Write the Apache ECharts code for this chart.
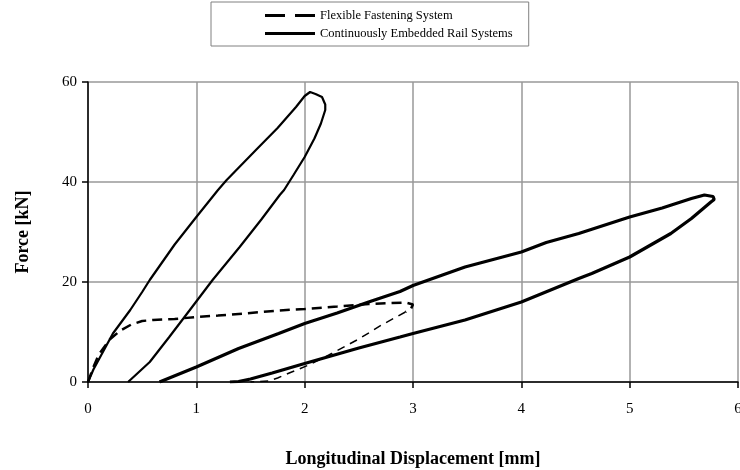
<!DOCTYPE html>
<html>
<head>
<meta charset="utf-8">
<script src="https://cdn.jsdelivr.net/npm/echarts@6/dist/echarts.min.js"></script>
<style>html,body{margin:0;padding:0;background:#fff}#c{width:740px;height:470px}</style>
</head>
<body>
<div id="c"></div>
<script>
// Flexible Fastening System – loading branch [displacement mm, force kN]
var flexLoad = [[0,0],[0.05,3],[0.1,5.5],[0.2,8.5],[0.3,10.3],[0.4,11.5],[0.5,12.2],[0.6,12.4],[0.8,12.6],[1.0,13.0],[1.2,13.3],[1.44,13.7],[1.76,14.3],[2.0,14.6],[2.3,15.1],[2.59,15.6],[2.8,15.8],[2.93,15.9],[3.0,15.5],[2.98,14.6],[2.93,14.0]];
// Flexible Fastening System – unloading branch
var flexUnload = [[2.93,14.0],[2.71,11.4],[2.5,8.6],[2.25,5.7],[2.05,3.5],[1.88,2.0],[1.75,0.8],[1.67,0.2],[1.5,0]];
// Continuously embedded – steep loop
var steepLoop = [[0,0],[0.05,2.5],[0.1,4.5],[0.23,9.7],[0.39,14.4],[0.5,18],[0.57,20.4],[0.8,27.5],[1.0,33],[1.2,38.4],[1.28,40.4],[1.55,46.4],[1.75,50.8],[1.92,55],[2.0,57.2],[2.05,58],[2.1,57.6],[2.16,57.0],[2.19,55.5],[2.19,54.4],[2.15,51.7],[2.09,48.7],[2.0,45],[1.9,41.5],[1.81,38.4],[1.77,37.4],[1.6,32.5],[1.4,27],[1.15,20.4],[0.94,14.4],[0.75,9],[0.57,4],[0.47,2],[0.37,0]];
// Continuously embedded – broad loop
var broadLoop = [[0.66,0],[1.0,3],[1.39,6.7],[1.76,9.7],[2.0,11.7],[2.3,13.8],[2.59,16],[2.88,18.1],[3.0,19.3],[3.48,23],[4.0,26],[4.23,27.9],[4.53,29.7],[5.0,33],[5.3,34.8],[5.57,36.7],[5.69,37.4],[5.77,37.1],[5.78,36.5],[5.75,36],[5.57,32.7],[5.38,29.7],[5.0,25],[4.65,21.7],[4.53,20.7],[4.0,16],[3.48,12.4],[3.0,9.7],[2.88,9.0],[2.5,6.8],[2.0,3.7],[1.7,1.8],[1.5,0.6],[1.39,0.1],[1.31,0]];
var legendNames = ['Flexible Fastening System','Continuously Embedded Rail Systems'];
var xTitle = 'Longitudinal Displacement [mm]';
var yTitle = 'Force [kN]';

var font = 'Liberation Serif';
var chart = echarts.init(document.getElementById('c'));
chart.setOption({
  animation: false,
  legend: {
    data: [
      {name: legendNames[0], icon: 'path://M0,0H20V3H0Z M30,0H50V3H30Z'},
      {name: legendNames[1], icon: 'path://M0,0H50V3H0Z'}
    ],
    orient: 'vertical',
    left: 211, top: 2,
    padding: [7, 16, 6, 54],
    itemWidth: 50, itemHeight: 3, itemGap: 5,
    borderColor: '#808080', borderWidth: 1,
    itemStyle: {color: '#000', borderWidth: 0},
    textStyle: {fontFamily: font, fontSize: 12.5, color: '#000'}
  },
  grid: {left: 88, right: 2, top: 82, bottom: 88, outerBoundsMode: 'none', containLabel: false},
  xAxis: {
    type: 'value', min: 0, max: 6, interval: 1,
    name: xTitle, nameLocation: 'middle', nameGap: 68,
    nameTextStyle: {fontFamily: font, fontSize: 18, fontWeight: 'bold', color: '#000'},
    axisLine: {lineStyle: {color: '#000', width: 1.5}},
    axisTick: {show: true, length: 6, lineStyle: {color: '#000', width: 1.5}},
    axisLabel: {fontFamily: font, fontSize: 15, color: '#000', margin: 20},
    splitLine: {show: true, lineStyle: {color: '#999', width: 1.5}}
  },
  yAxis: {
    type: 'value', min: 0, max: 60, interval: 20,
    name: yTitle, nameLocation: 'middle', nameGap: 56,
    nameTextStyle: {fontFamily: font, fontSize: 18, fontWeight: 'bold', color: '#000'},
    axisLine: {show: true, lineStyle: {color: '#000', width: 1.5}},
    axisTick: {show: true, length: 6, lineStyle: {color: '#000', width: 1.5}},
    axisLabel: {fontFamily: font, fontSize: 15, color: '#000', margin: 11},
    splitLine: {show: true, lineStyle: {color: '#999', width: 1.5}}
  },
  series: [
    {name: legendNames[0], type: 'line', data: flexLoad, symbol: 'none',
     lineStyle: {color: '#000', width: 2.5, type: [10, 6]}, itemStyle: {color: '#000'}, z: 3},
    {name: '_flexUnload', type: 'line', data: flexUnload, symbol: 'none',
     lineStyle: {color: '#000', width: 1.5, type: [8, 6]}, z: 3},
    {name: legendNames[1], type: 'line', data: broadLoop, symbol: 'none',
     lineStyle: {color: '#000', width: 3.2}, itemStyle: {color: '#000'}, z: 2},
    {name: '_steep', type: 'line', data: steepLoop, symbol: 'none',
     lineStyle: {color: '#000', width: 2.2}, z: 2}
  ]
});
</script>
</body>
</html>
